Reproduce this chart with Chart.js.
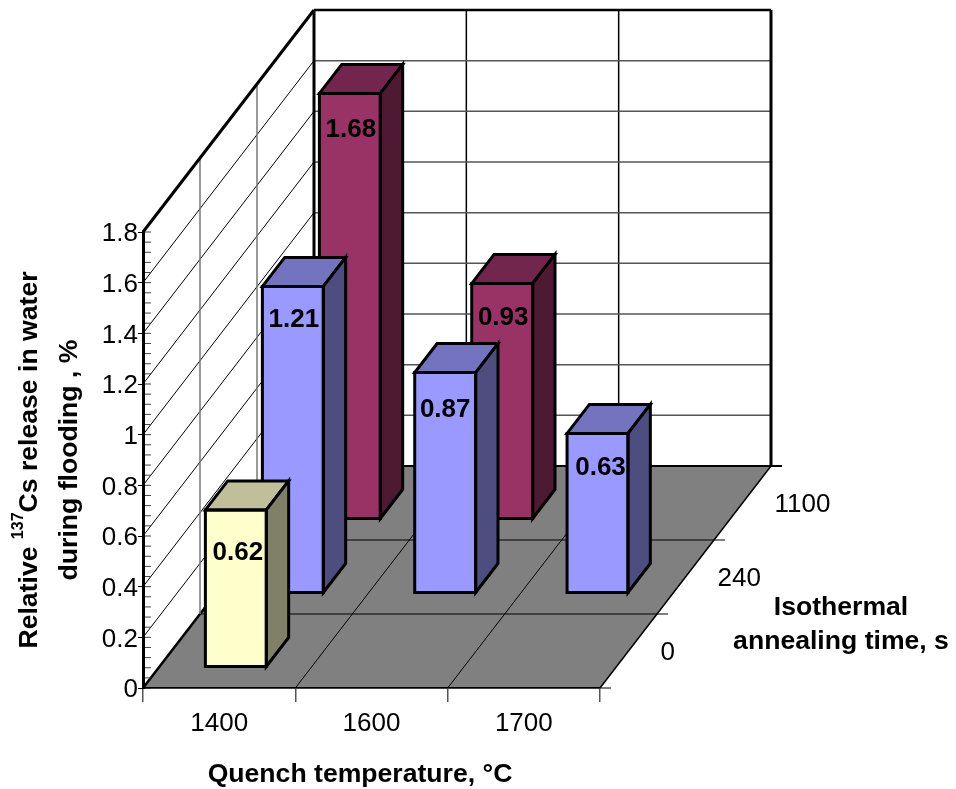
<!DOCTYPE html>
<html>
<head>
<meta charset="utf-8">
<style>
  html, body { margin: 0; padding: 0; background: #fff; }
  canvas { display: block; }
</style>
<script src="https://cdn.jsdelivr.net/npm/chart.js@4/dist/chart.umd.min.js"></script>
</head>
<body>
<canvas id="chart" width="956" height="789"></canvas>
<script>
const temperatures = ['1400', '1600', '1700'];
const annealingTimes = ['0', '240', '1100'];
const release0 = [0.62, null, null];
const release240 = [1.21, 0.87, 0.63];
const release1100 = [1.68, 0.93, null];
const valueTicks = [0, 0.2, 0.4, 0.6, 0.8, 1, 1.2, 1.4, 1.6, 1.8];

const font = '"Liberation Sans", Arial, sans-serif';

// projection of one depth category onto the page
const depthX = 57;
const depthY = -74;
const barDepth = 0.392;
const barFront = 0.284;
const wallDepth = annealingTimes.length;

// where each value label sits relative to its bar, per series then category
const labelDrops = [[43, 0, 0], [33, 37, 34], [36, 34, 0]];
const labelNudges = [[2, 0, 0], [1, 0, 3], [1, 1, 0]];

function path(ctx, pts) {
  ctx.beginPath();
  pts.forEach((p, i) => (i ? ctx.lineTo(p[0], p[1]) : ctx.moveTo(p[0], p[1])));
}

function line(ctx, x1, y1, x2, y2, color, width) {
  ctx.strokeStyle = color;
  ctx.lineWidth = width;
  path(ctx, [[x1, y1], [x2, y2]]);
  ctx.stroke();
}

function text(ctx, str, x, y, size, bold, align) {
  ctx.font = (bold ? 'bold ' : '') + size + 'px ' + font;
  ctx.fillStyle = '#000';
  ctx.textAlign = align || 'center';
  ctx.textBaseline = 'middle';
  ctx.fillText(str, x, y);
}

const wallsPlugin = {
  id: 'walls',
  beforeDraw(chart) {
    const { ctx, chartArea: a, scales: { y } } = chart;
    const dx = wallDepth * depthX;
    const dy = wallDepth * depthY;
    const step = (a.right - a.left) / temperatures.length;
    ctx.save();

    // floor
    path(ctx, [[a.left, a.bottom], [a.right, a.bottom], [a.right + dx, a.bottom + dy], [a.left + dx, a.bottom + dy]]);
    ctx.fillStyle = '#808080';
    ctx.fill();
    for (let i = 1; i < temperatures.length; i++) {
      const x = a.left + i * step;
      line(ctx, x, a.bottom, x + dx, a.bottom + dy, '#000', 1);
      line(ctx, x + dx, a.bottom + dy, x + dx, a.top + dy, '#000', 1.5);
    }
    for (let i = 0; i <= wallDepth; i++) {
      const oy = a.bottom + i * depthY;
      line(ctx, a.left + i * depthX, oy, a.right + i * depthX + 11, oy, '#000', i === wallDepth ? 2 : 1);
    }
    line(ctx, a.right, a.bottom, a.right + dx, a.bottom + dy, '#000', 1.5);
    line(ctx, a.left, a.bottom, a.left + dx, a.bottom + dy, '#000', 2.5);

    // left and back walls
    valueTicks.slice(1, -1).forEach(v => {
      const py = y.getPixelForValue(v);
      line(ctx, a.left, py, a.left + dx, py + dy, '#000', 1);
      line(ctx, a.left + dx, py + dy, a.right + dx, py + dy, '#555', 1.5);
    });
    for (let i = 1; i < wallDepth; i++) {
      const x = a.left + i * depthX;
      line(ctx, x, a.bottom + i * depthY, x, a.top + i * depthY, '#777', 1.5);
    }
    line(ctx, a.left, a.top, a.left + dx, a.top + dy, '#000', 3);
    line(ctx, a.left + dx, a.top + dy, a.right + dx, a.top + dy, '#000', 2.5);
    line(ctx, a.left + dx, a.top + dy, a.left + dx, a.bottom + dy, '#000', 3);
    line(ctx, a.right + dx, a.top + dy, a.right + dx, a.bottom + dy, '#000', 3);

    // minor ticks on the value axis
    for (let i = 0; i <= 45; i++) {
      const py = y.getPixelForValue(i * 0.04);
      line(ctx, a.left, py, a.left + 8, py, '#444', 1);
    }
    ctx.restore();
  },
  afterDraw(chart) {
    const { ctx, chartArea: a } = chart;
    ctx.save();
    annealingTimes.forEach((t, i) => {
      const f = i + 0.5;
      text(ctx, t, a.right + f * depthX + 32, a.bottom + f * depthY + 2, 26, false, 'left');
    });
    text(ctx, 'Quench temperature, °C', 360, 775, 26.6, true);
    text(ctx, 'Isothermal', 841, 608, 26.6, true);
    text(ctx, 'annealing time, s', 841, 642, 26.6, true);

    // rotated value axis title with the superscript mass number
    ctx.translate(30, 460);
    ctx.rotate(-Math.PI / 2);
    const parts = [['Relative ', 26.6, 0], ['137', 16, -11], ['Cs release in water', 26.6, 0]];
    let width = 0;
    parts.forEach(p => {
      ctx.font = 'bold ' + p[1] + 'px ' + font;
      width += ctx.measureText(p[0]).width;
    });
    let cx = -width / 2;
    parts.forEach(p => {
      text(ctx, p[0], cx, p[2], p[1], true, 'left');
      cx += ctx.measureText(p[0]).width;
    });
    text(ctx, 'during flooding , %', 0, 40, 26.6, true);
    ctx.restore();
  }
};

// each series is a real bar dataset, shifted back to its depth row, with top and side faces added
const barsPlugin = {
  id: 'bars3d',
  beforeDatasetDraw(chart, args) {
    const f = args.index + barFront;
    chart.ctx.save();
    chart.ctx.translate(f * depthX + 0.5, f * depthY);
  },
  afterDatasetDraw(chart, args) {
    const { ctx } = chart;
    const ds = chart.data.datasets[args.index];
    const ox = barDepth * depthX;
    const oy = barDepth * depthY;
    args.meta.data.forEach((bar, i) => {
      if (ds.data[i] === null) return;
      const l = bar.x - bar.width / 2;
      const r = bar.x + bar.width / 2;
      const top = bar.y;
      const base = bar.base;
      ctx.strokeStyle = '#000';
      ctx.lineWidth = 3;
      ctx.lineJoin = 'miter';
      path(ctx, [[l, top], [r, top], [r + ox, top + oy], [l + ox, top + oy]]);
      ctx.closePath();
      ctx.fillStyle = ds.topColor;
      ctx.fill();
      ctx.stroke();
      path(ctx, [[r, top], [r + ox, top + oy], [r + ox, base + oy], [r, base]]);
      ctx.closePath();
      ctx.fillStyle = ds.sideColor;
      ctx.fill();
      ctx.stroke();
      path(ctx, [[l, top], [r, top], [r, base], [l, base]]);
      ctx.closePath();
      ctx.stroke();
      text(ctx, ds.data[i].toFixed(2), bar.x + labelNudges[args.index][i], bar.y + labelDrops[args.index][i], 26, true);
    });
    ctx.restore();
  }
};

function series(label, data, color, topColor, sideColor) {
  return {
    label, data, topColor, sideColor,
    backgroundColor: color,
    borderWidth: 0,
    barPercentage: 0.4,
    categoryPercentage: 1,
    grouped: false,
    clip: false
  };
}

new Chart(document.getElementById('chart'), {
  type: 'bar',
  data: {
    labels: temperatures,
    datasets: [
      series(annealingTimes[0], release0, '#ffffcc', '#bfbf99', '#808066'),
      series(annealingTimes[1], release240, '#9999ff', '#7373bf', '#4d4d80'),
      series(annealingTimes[2], release1100, '#993366', '#73264d', '#4d1933')
    ]
  },
  options: {
    responsive: false,
    animation: false,
    layout: { padding: { top: 232, right: 356, bottom: 0, left: 0 } },
    plugins: { legend: { display: false }, tooltip: { enabled: false } },
    scales: {
      x: {
        afterFit(scale) { scale.height = 101; },
        grid: { drawOnChartArea: false, tickLength: 14, color: '#555', lineWidth: 1.5 },
        border: { color: '#000', width: 1.5 },
        ticks: { color: '#000', font: { family: font, size: 26 }, padding: 6, maxRotation: 0 }
      },
      y: {
        min: 0,
        max: 1.8,
        afterFit(scale) { scale.width = 143; },
        afterBuildTicks(scale) { scale.ticks = valueTicks.map(value => ({ value })); },
        grid: { drawOnChartArea: false, tickLength: 5, color: '#000', lineWidth: 1 },
        border: { color: '#000', width: 3 },
        ticks: { color: '#000', font: { family: font, size: 26 }, padding: 0, labelOffset: 2, callback: v => String(v) }
      }
    }
  },
  plugins: [wallsPlugin, barsPlugin]
});
</script>
</body>
</html>
